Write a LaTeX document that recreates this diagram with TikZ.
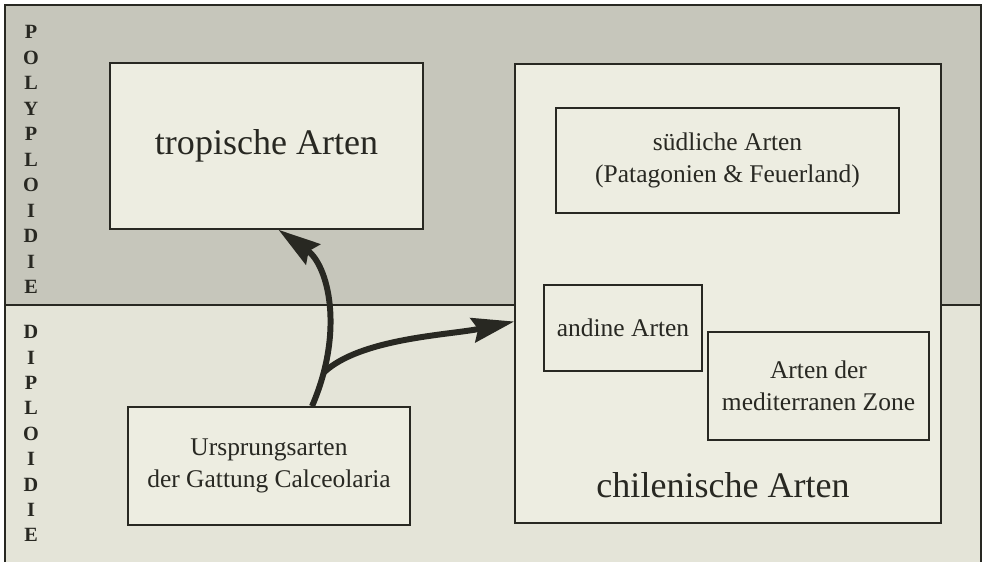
\documentclass[tikz,border=0pt]{standalone}
\usepackage{fontspec}
\setmainfont{Liberation Serif}
\usepackage{xcolor}
\usepackage{tikz}
\usetikzlibrary{arrows.meta,calc}

\definecolor{polygray}{RGB}{198,198,187}
\definecolor{diplogray}{RGB}{228,228,216}
\definecolor{boxfill}{RGB}{237,237,225}
\definecolor{inkdark}{RGB}{40,40,34}

\tikzset{
  artbox/.style={draw=inkdark,line width=0.9pt,fill=boxfill,inner sep=0pt,
                 align=center,text=inkdark,font=\fontsize{14.5}{18}\selectfont},
  bigtext/.style={text=inkdark,font=\fontsize{20.5}{24}\selectfont},
  vletter/.style={text=inkdark,font=\fontsize{11.5}{12}\selectfont\bfseries},
  thickarrow/.style={draw=inkdark,line width=3.4pt,
                 -{Stealth[length=24pt,width=14pt,inset=3pt]}}
}

\begin{document}
\begin{tikzpicture}[x=0.02cm,y=-0.02cm]
      \useasboundingbox (0,0) rectangle (984,562);
      % ploidy bands
      \fill[polygray] (5,5) rectangle (981,305);
      \fill[diplogray] (5,305) rectangle (981,562);
      \draw[inkdark,line width=1.2pt] (5,562) -- (5,5) -- (981,5) -- (981,562);
      \draw[inkdark,line width=1.2pt] (5,305) -- (981,305);
      \foreach \ch [count=\i from 0] in {P,O,L,Y,P,L,O,I,D,I,E}
            \node[vletter] (poly\i) at (31,{32+25.5*\i}) {\ch};
      \foreach \ch [count=\i from 0] in {D,I,P,L,O,I,D,I,E}
            \node[vletter] (diplo\i) at (31,{332+25.4*\i}) {\ch};
      % boxes
      \node[artbox,minimum width=6.26cm,minimum height=3.32cm] (trop) at (266.5,146)
            {\fontsize{20.5}{24}\selectfont tropische Arten};
      \node[artbox,minimum width=5.64cm,minimum height=2.36cm] (ursp) at (269,466)
            {Ursprungsarten\\der Gattung Calceolaria};
      \node[artbox,minimum width=8.52cm,minimum height=9.18cm] (chile) at (728,293.5) {};
      \node[bigtext] (chiletext) at (723,485) {chilenische Arten};
      \node[artbox,minimum width=6.86cm,minimum height=2.1cm] (sued) at (727.5,160.5)
            {südliche Arten\\(Patagonien \& Feuerland)};
      \node[artbox,minimum width=3.16cm,minimum height=1.72cm] (andin) at (623,328)
            {andine Arten};
      \node[artbox,minimum width=4.42cm,minimum height=2.16cm] (medit) at (818.5,386)
            {Arten der\\mediterranen Zone};
      % arrows
      \draw[thickarrow] ($(ursp.north)+(43,0)$) .. controls (345,330) and (328,265)
            .. ($(trop.south)+(12,0)$) coordinate[pos=0.15] (fork);
      \draw[thickarrow] (fork) .. controls (360,338) and (450,335)
            .. ($(chile.west)+(0,28)$);
\end{tikzpicture}
\end{document}
